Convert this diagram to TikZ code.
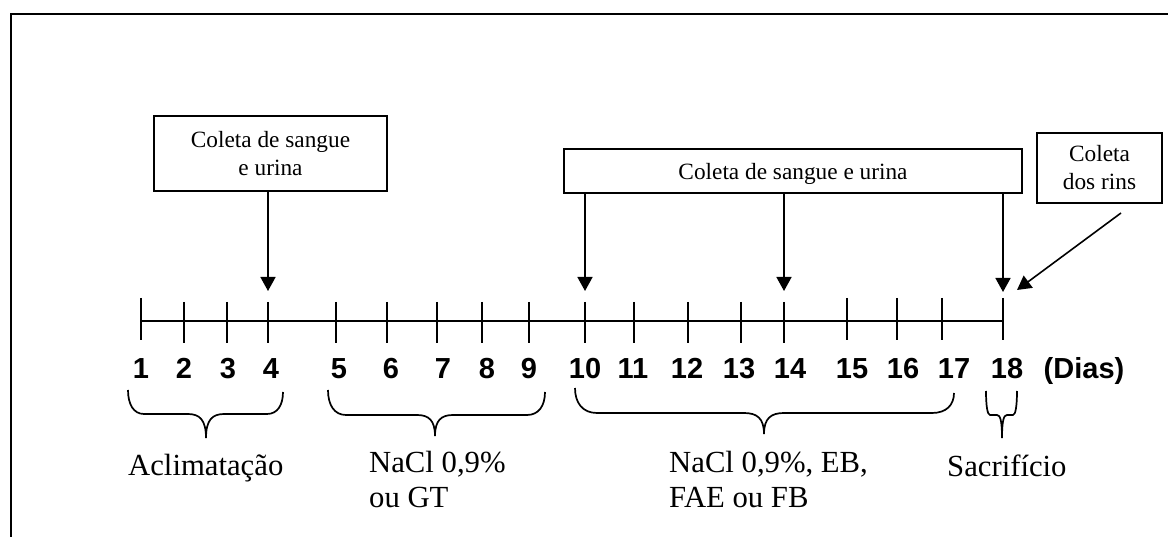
\documentclass[tikz,border=0pt]{standalone}
\usepackage{fontspec}
\setmainfont{Liberation Serif}
\newfontfamily\numfont{Liberation Sans}
\usetikzlibrary{arrows.meta}
\tikzset{
 boxnode/.style={draw, line width=1.5pt, inner sep=0pt, align=center, font=\fontsize{23.3}{28}\selectfont},
 daynum/.style={anchor=base, inner sep=0pt, font=\numfont\bfseries\fontsize{29}{34}\selectfont},
 lab/.style={anchor=base west, inner sep=0pt, font=\fontsize{30.7}{35}\selectfont},
 arr/.style={line width=1.6pt, -{Triangle[width=15pt,length=14pt]}},
 tickline/.style={line width=1.5pt},
 bracestyle/.style={line width=1.7pt},
 frameline/.style={line width=1.5pt},
}
% x1 x2 ytopL ytopR yh xc ytip r c
\newcommand\drawbrace[9]{%
 \draw[bracestyle] ({#1},{#3}) .. controls ({#1},{#3+0.6*(#5-#3)}) and ({#1+0.35*#8},{#5}) .. ({#1+#8},{#5})
 -- ({#6-#9},{#5}) .. controls ({#6-0.35*#9},{#5}) and ({#6},{#5+0.25*(#7-#5)}) .. ({#6},{#7})
 .. controls ({#6},{#5+0.25*(#7-#5)}) and ({#6+0.35*#9},{#5}) .. ({#6+#9},{#5})
 -- ({#2-#8},{#5}) .. controls ({#2-0.35*#8},{#5}) and ({#2},{#4+0.6*(#5-#4)}) .. ({#2},{#4});}
\begin{document}
\begin{tikzpicture}[x=1pt,y=-1pt]
\useasboundingbox (0,0) rectangle (1168,537);
% frame (top and left only)
\draw[frameline] (1168,14) coordinate (fr) -- (11,14) coordinate (fc) -- (11,537) coordinate (fb);
% ticks
\foreach \i/\x/\ya/\yb in {1/141/298/340, 2/184/302/343, 3/227/302/343, 4/268/302/343,
  5/336/302/343, 6/387/302/343, 7/437/302/343, 8/482/302/343, 9/529/302/343,
  10/585/302/343, 11/634/302/343, 12/688/302/343, 13/741/302/343, 14/784/302/343,
  15/847/298/340, 16/897/298/340, 17/942/298/340, 18/1003/298/340}{
  \coordinate (t\i) at (\x,321);
  \draw[tickline] (\x,\ya) -- (\x,\yb);
}
\draw[tickline] (t1) -- (t18);
% day numbers
\foreach \i/\x in {1/141, 2/184, 3/228, 4/271, 5/339, 6/391, 7/443, 8/487, 9/529,
  10/585, 11/633, 12/687, 13/739, 14/790, 15/852, 16/903, 17/954, 18/1007}{
  \node[daynum] (n\i) at (\x,379) {\i};
}
\node[daynum] (dias) at (1084,379) {(Dias)};
% boxes
\node[boxnode, minimum width=233pt, minimum height=75pt] (b1) at (270.5,153.5) {Coleta de sangue\\e urina};
\node[boxnode, minimum width=458pt, minimum height=44pt, text height=22pt, text depth=4pt] (b2) at (793,171) {Coleta de sangue e urina};
\node[boxnode, minimum width=125pt, minimum height=70pt] (b3) at (1099.5,168) {Coleta\\dos rins};
% arrows
\coordinate (a4) at (268,291);
\coordinate (a10) at (585,291);
\coordinate (a14) at (784,291);
\coordinate (a18) at (1003,292);
\coordinate (k1) at (1121,213);
\coordinate (k2) at (1017,290);
\draw[arr] (b1.south -| a4) -- (a4);
\draw[arr] (b2.south -| a10) -- (a10);
\draw[arr] (b2.south -| a14) -- (a14);
\draw[arr] (b2.south -| a18) -- (a18);
\draw[arr] (k1) -- (k2);
% braces
\drawbrace{128}{283}{390}{392}{414}{206}{438}{16}{18}
\drawbrace{328}{545}{390}{392}{415}{435}{436}{18}{18}
\drawbrace{575}{954}{388}{393}{413}{764}{434}{22}{20}
\drawbrace{986}{1017}{391}{391}{415}{1002}{438}{4}{5}
% labels
\node[lab] (acl) at (128,475) {Aclimatação};
\node[lab] (g1a) at (369,472) {NaCl 0,9\%};
\node[lab] (g1b) at (369,507) {ou GT};
\node[lab] (g2a) at (669,472) {NaCl 0,9\%, EB,};
\node[lab] (g2b) at (669,507) {FAE ou FB};
\node[lab] (sac) at (947,476) {Sacrifício};
\end{tikzpicture}
\end{document}
